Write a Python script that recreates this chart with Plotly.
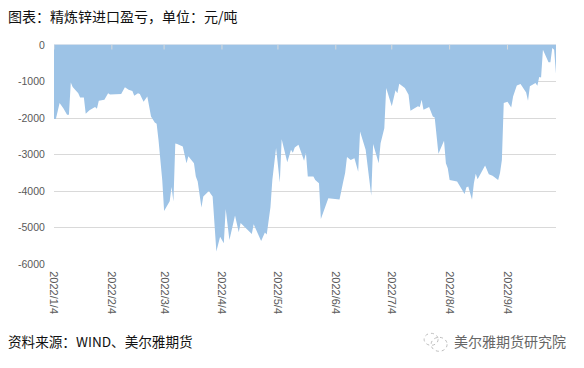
import pandas as pd
import plotly.graph_objects as go

start_date = "2022-01-04"
days_from_start = [0,1,3,5,7,8,9,10,13,14,16,17,19,21,22,23,24,27,29,30,36,38,40,42,43,45,46,48,50,52,54,55,56,58,59,62,63,64,65,66,69,71,72,75,76,77,79,80,83,84,85,87,89,91,92,94,97,99,100,106,107,111,113,114,116,117,119,121,122,125,127,128,129,131,133,134,135,136,139,140,142,143,147,153,155,156,157,159,161,163,164,167,170,171,174,175,177,178,181,183,184,185,188,190,191,195,196,197,198,201,203,204,206,209,210,211,212,216,220,221,222,224,225,226,227,231,233,235,238,239,240,241,243,245,246,248,250,252,253,254,255,258,259,260,261,262,265,266,267,268,269]
profit_loss = [-2030,-2030,-1590,-1730,-1910,-1910,-1025,-1150,-1320,-1440,-1440,-1885,-1790,-1720,-1700,-1750,-1530,-1500,-1320,-1355,-1345,-1160,-1225,-1260,-1390,-1320,-1340,-1555,-1410,-1960,-2120,-2160,-2600,-3700,-4550,-4280,-3890,-4290,-2700,-2710,-2780,-3240,-3050,-3240,-3600,-3740,-4450,-4150,-4000,-4080,-4150,-5660,-5250,-5430,-4490,-5340,-4670,-5130,-4880,-5180,-4910,-5370,-5140,-5190,-4440,-3700,-2820,-3770,-2580,-3210,-2870,-2950,-2810,-2735,-3050,-3170,-2960,-3600,-3600,-3700,-3790,-4770,-4200,-4230,-3740,-3510,-3070,-3150,-3100,-3470,-2370,-2870,-4130,-2710,-3240,-2690,-2280,-1180,-1680,-1240,-1320,-1060,-1180,-1360,-1800,-1680,-1700,-1500,-1775,-1700,-1960,-1985,-2980,-2620,-3240,-3380,-3700,-3740,-4080,-3900,-3880,-4240,-3790,-3530,-3680,-3300,-3540,-3580,-3700,-3510,-3150,-1590,-1555,-1710,-1410,-1110,-1070,-1240,-1300,-1530,-1130,-1040,-1115,-880,-890,-130,-475,-475,-80,-130,-790]
tick_dates = ["2022-01-04","2022-02-04","2022-03-04","2022-04-04","2022-05-04","2022-06-04","2022-07-04","2022-08-04","2022-09-04"]
tick_labels = ["2022/1/4","2022/2/4","2022/3/4","2022/4/4","2022/5/4","2022/6/4","2022/7/4","2022/8/4","2022/9/4"]
y_ticks = [0,-1000,-2000,-3000,-4000,-5000,-6000]
title_text = "图表：精炼锌进口盈亏，单位：元/吨"
source_text = "资料来源：WIND、美尔雅期货"
watermark_text = "美尔雅期货研究院"

dates = pd.Timestamp(start_date) + pd.to_timedelta(days_from_start, unit="D")

W, H = 584, 368
L, R, T, B = 53.5, 28, 45, 103.5
def px(x): return (x - L) / (W - L - R)
def py(y): return (H - B - y) / (H - T - B)

CJK = "Noto Sans CJK SC"
fig = go.Figure(go.Scatter(x=dates, y=profit_loss, mode="lines", fill="tozeroy",
                           line=dict(width=0, color="#9DC3E6"), fillcolor="#9DC3E6",
                           hoverinfo="x+y", showlegend=False))

for t in tick_dates:
    fig.add_shape(type="line", xref="x", yref="paper", x0=t, x1=t, y0=1, y1=py(49.5),
                  line=dict(color="#D9D9D9", width=1), layer="above")

fig.add_annotation(text=title_text, xref="paper", yref="paper", x=px(5.5), y=py(16), xanchor="left",
                   yanchor="middle", showarrow=False, font=dict(family=CJK, size=14, color="#111111"))
fig.add_annotation(text=source_text, xref="paper", yref="paper", x=px(5.5), y=py(342), xanchor="left",
                   yanchor="middle", showarrow=False, font=dict(family=CJK, size=13.6, color="#111111"))
fig.add_annotation(text=watermark_text, xref="paper", yref="paper", x=px(568), y=py(342), xanchor="right",
                   yanchor="middle", showarrow=False, font=dict(family=CJK, size=14, color="#666666"))
# faint logo outline next to the watermark
for (x0, x1, y0, y1) in [(424, 438, 334, 346), (431, 447, 338, 352)]:
    fig.add_shape(type="circle", xref="paper", yref="paper", x0=px(x0), x1=px(x1), y0=py(y1), y1=py(y0),
                  line=dict(color="#BDBDBD", width=1, dash="dot"))

fig.update_layout(
    width=W, height=H, autosize=False, paper_bgcolor="white", plot_bgcolor="white",
    margin=dict(l=L, r=R, t=T, b=B), showlegend=False,
    xaxis=dict(type="date", range=[dates[0], dates[-1]], tickmode="array", tickvals=tick_dates,
               ticktext=tick_labels, tickangle=90, showgrid=False, zeroline=False, showline=False,
               ticks="outside", ticklen=4, tickcolor="rgba(0,0,0,0)",
               tickfont=dict(family="Liberation Sans", size=11, color="#595959")),
    yaxis=dict(range=[-6000, 0], tickmode="array", tickvals=y_ticks, ticktext=[str(v) for v in y_ticks],
               showgrid=True, gridcolor="#D9D9D9", gridwidth=1, zeroline=True, zerolinecolor="#D5E0EC",
               zerolinewidth=2, showline=False, ticks="outside", ticklen=6, tickcolor="rgba(0,0,0,0)",
               tickfont=dict(family="Liberation Sans", size=10.5, color="#595959")),
)
fig.write_html("out.html", config={"displayModeBar": False},
               post_script="document.body.style.margin='0';document.documentElement.style.overflow='hidden';")
